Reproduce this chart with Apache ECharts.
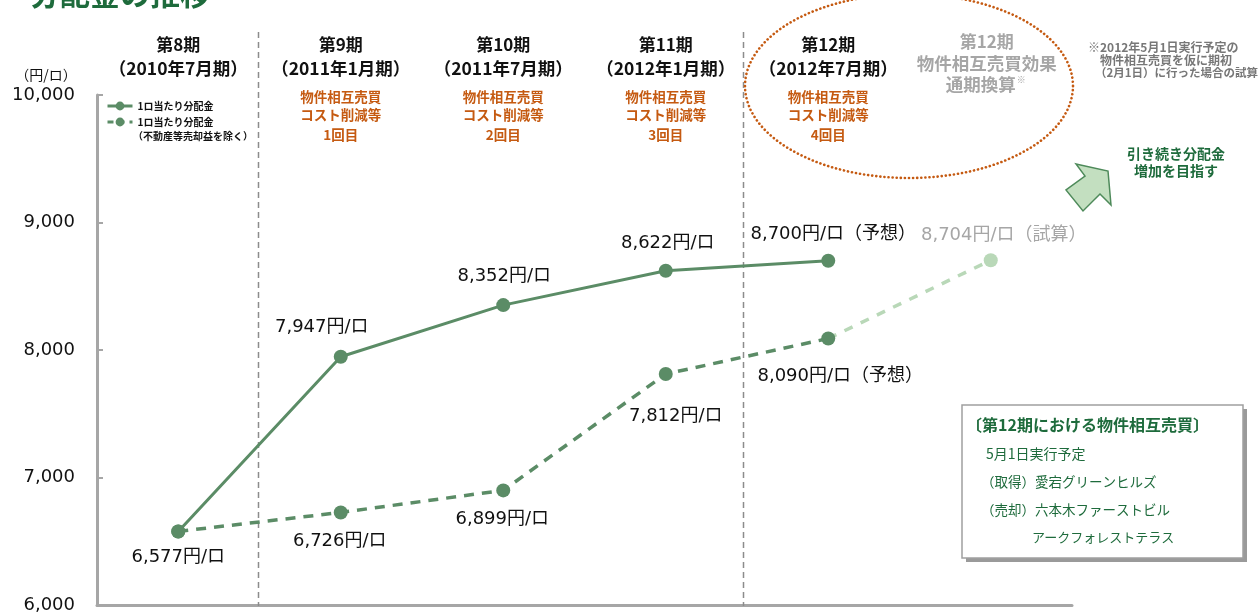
<!DOCTYPE html>
<html><head><meta charset="utf-8">
<script src="https://cdn.jsdelivr.net/npm/echarts@6/dist/echarts.min.js"></script>
<style>html,body{margin:0;padding:0;background:#fff}#c{width:1259px;height:614px}</style>
</head><body><div id="c"></div>
<script>
// ---- data ----
const periods = ['第8期', '第9期', '第10期', '第11期', '第12期', '第12期'];
const periodDates = ['（2010年7月期）', '（2011年1月期）', '（2011年7月期）', '（2012年1月期）', '（2012年7月期）', ''];
const periodNotes = ['', '1回目', '2回目', '3回目', '4回目', ''];
const seriesNames = ['1ロ当たり分配金', '1ロ当たり分配金（不動産等売却益を除く）'];
const distribution = [6577, 7947, 8352, 8622, 8700, null];
const distributionExGain = [6577, 6726, 6899, 7812, 8090, null];
const estimateFullYear = [null, null, null, null, 8090, 8704];
const distributionSuffix = ['', '', '', '', '（予想）', ''];
const exGainSuffix = ['', '', '', '', '（予想）', ''];
const estimateSuffix = ['', '', '', '', '', '（試算）'];
const yTicks = [6000, 10000, 1000];

// ---- styles / layout (not data) ----
const FONT = '"DejaVu Sans", "Noto Sans CJK JP", sans-serif';
const JP = '"Noto Sans CJK JP", sans-serif';
const GREEN = '#5b8c66', LIGHT = '#b9d8b8', ORANGE = '#c55a11', DARK = '#1e6b3c';
const off1 = [[0, 26], [-19, -29], [1, -29], [2, -27], [5, -26], [0, 0]];
const off2 = [[0, 0], [-1, 29], [-1, 29], [10, 42], [12, 38], [0, 0]];
const off3 = [[0, 0], [0, 0], [0, 0], [0, 0], [0, 0], [13, -25]];

function fmt(v, suf) { return v.toLocaleString('en-US') + '円/ロ' + suf; }
function buildData(vals, sufs, offs, opts) {
  return vals.map((v, i) => {
    if (v == null) return null;
    const item = { value: v };
    const showLabel = opts.labelIdx.indexOf(i) >= 0;
    item.label = {
      show: showLabel, position: 'inside', offset: offs[i],
      formatter: fmt(v, sufs[i]), color: opts.labelColor || '#111',
      fontSize: 18, fontFamily: FONT
    };
    if (opts.noSymbolIdx && opts.noSymbolIdx.indexOf(i) >= 0) { item.symbol = 'none'; }
    return item;
  });
}

const chart = echarts.init(document.getElementById('c'), null, { renderer: 'canvas' });
const option = {
  animation: false,
  grid: { left: 97, right: 187, top: 95, bottom: 7, containLabel: false },
  xAxis: {
    type: 'category', data: periods.map((p, i) => p + i), boundaryGap: true,
    axisLine: { lineStyle: { color: '#a6a6a6', width: 3 } },
    axisTick: { show: false }, axisLabel: { show: false }, splitLine: { show: false }
  },
  yAxis: {
    type: 'value', min: yTicks[0], max: yTicks[1], interval: yTicks[2],
    name: '（円/ロ）', nameLocation: 'end', nameGap: 13,
    nameTextStyle: { fontSize: 14, color: '#111', fontFamily: JP, align: 'center', padding: [0, 0, 0, -102] },
    axisLine: { show: true, lineStyle: { color: '#a6a6a6', width: 3 } },
    axisTick: { show: true, inside: true, length: 6, lineStyle: { color: '#a6a6a6', width: 2 } },
    axisLabel: { fontSize: 18, color: '#111', fontFamily: FONT, margin: 22,
      formatter: v => v.toLocaleString('en-US') },
    splitLine: { show: false }
  },
  legend: {
    data: [
      { name: seriesNames[0], lineStyle: { width: 3 } },
      { name: seriesNames[1], lineStyle: { type: [6, 5], width: 3 } }
    ],
    orient: 'vertical', left: 101, top: 96, itemGap: 6,
    itemWidth: 25, itemHeight: 11,
    textStyle: { fontSize: 10, fontWeight: 'bold', color: '#111', fontFamily: JP },
    formatter: n => '1ロ当たり分配金'
  },
  series: [
    {
      name: seriesNames[0], type: 'line', z: 4,
      data: buildData(distribution, distributionSuffix, off1, { labelIdx: [0, 1, 2, 3, 4] }),
      symbol: 'circle', symbolSize: 14, connectNulls: false,
      lineStyle: { color: GREEN, width: 3 }, itemStyle: { color: GREEN }
    },
    {
      name: seriesNames[1], type: 'line', z: 3,
      data: buildData(distributionExGain, exGainSuffix, off2, { labelIdx: [1, 2, 3, 4] }),
      symbol: 'circle', symbolSize: 14,
      lineStyle: { color: GREEN, width: 3.5, type: [10, 8] }, itemStyle: { color: GREEN }
    },
    {
      name: 'estimate', type: 'line', z: 2,
      data: buildData(estimateFullYear, estimateSuffix, off3, { labelIdx: [5], labelColor: '#a6a6a6', noSymbolIdx: [4] }),
      symbol: 'circle', symbolSize: 14,
      lineStyle: { color: LIGHT, width: 3.5, type: [9, 9] }, itemStyle: { color: LIGHT }
    }
  ]
};
chart.setOption(option);

// ---- annotations positioned through the axes ----
const px = i => chart.convertToPixel({ xAxisIndex: 0 }, i);
const g = [];
// vertical dashed dividers
[[0.5, -2], [3.5, -4]].forEach(([b, adj]) => {
  const x = Math.round((px(Math.floor(b)) + px(Math.ceil(b))) / 2) + adj + 0.5;
  g.push({ type: 'line', shape: { x1: x, y1: 32, x2: x, y2: 606 }, z: 1,
    style: { stroke: '#8c8c8c', lineWidth: 1.5, lineDash: [6, 4] } });
});
// period header texts
periods.forEach((p, i) => {
  const x = px(i);
  if (i < 5) {
    g.push({ type: 'text', x: x, y: 45, style: { text: p, font: 'bold 17px ' + JP, fill: '#111', align: 'center', verticalAlign: 'middle' } });
    g.push({ type: 'text', x: x, y: 68, style: { text: periodDates[i], font: 'bold 17.5px ' + JP, fill: '#111', align: 'center', verticalAlign: 'middle' } });
    if (i > 0) {
      g.push({ type: 'text', x: x, y: 97, style: { text: '物件相互売買', font: 'bold 13.5px ' + JP, fill: ORANGE, align: 'center', verticalAlign: 'middle' } });
      g.push({ type: 'text', x: x, y: 115, style: { text: 'コスト削減等', font: 'bold 13.5px ' + JP, fill: ORANGE, align: 'center', verticalAlign: 'middle' } });
      g.push({ type: 'text', x: x, y: 135, style: { text: periodNotes[i], font: 'bold 13.5px ' + JP, fill: ORANGE, align: 'center', verticalAlign: 'middle' } });
    }
  } else {
    g.push({ type: 'text', x: x - 4, y: 42, style: { text: p, font: 'bold 17px ' + JP, fill: '#a6a6a6', align: 'center', verticalAlign: 'middle' } });
    g.push({ type: 'text', x: x - 4, y: 63, style: { text: '物件相互売買効果', font: 'bold 17.5px ' + JP, fill: '#a6a6a6', align: 'center', verticalAlign: 'middle' } });
    g.push({ type: 'text', x: x - 10, y: 84, style: { text: '通期換算', font: 'bold 17.5px ' + JP, fill: '#a6a6a6', align: 'center', verticalAlign: 'middle' } });
    g.push({ type: 'text', x: x + 26, y: 80, style: { text: '※', font: 'bold 9px ' + JP, fill: '#a6a6a6', align: 'left', verticalAlign: 'middle' } });
  }
});
// dotted ellipse
(function () {
  const cx = 909, cy = 86, rx = 164, ry = 92, pts = [];
  for (let k = 0; k <= 240; k++) { const t = k / 240 * Math.PI * 2; pts.push([cx + rx * Math.cos(t), cy + ry * Math.sin(t)]); }
  g.push({ type: 'polyline', shape: { points: pts }, z: 5, style: { stroke: ORANGE, lineWidth: 2.6, lineDash: [0.1, 4], lineCap: 'round', fill: null } });
})();
// title (cut off at top)
g.push({ type: 'text', left: 30, top: -21, style: { text: '分配金の推移', font: 'bold 30px ' + JP, fill: DARK } });
// legend extra line
g.push({ type: 'text', x: 133, y: 136, style: { text: '（不動産等売却益を除く）', font: 'bold 10px ' + JP, fill: '#111', verticalAlign: 'middle' } });
// footnote
g.push({ type: 'text', x: 1088, y: 47, style: { text: '※2012年5月1日実行予定の', font: 'bold 12px ' + JP, fill: '#777', verticalAlign: 'middle' } });
g.push({ type: 'text', x: 1100, y: 60, style: { text: '物件相互売買を仮に期初', font: 'bold 12px ' + JP, fill: '#777', verticalAlign: 'middle' } });
g.push({ type: 'text', x: 1095, y: 73, style: { text: '（2月1日）に行った場合の試算', font: 'bold 11.5px ' + JP, fill: '#777', verticalAlign: 'middle' } });
// arrow
g.push({ type: 'polygon', shape: { points: [[1076, 164], [1108, 171], [1111, 205], [1100, 194], [1083, 211], [1066, 190], [1085, 176]] },
  style: { fill: '#c3dfc0', stroke: '#4e8a5a', lineWidth: 1.5 } });
g.push({ type: 'text', x: 1176, y: 154, style: { text: '引き続き分配金', font: 'bold 14px ' + JP, fill: DARK, align: 'center', verticalAlign: 'middle' } });
g.push({ type: 'text', x: 1176, y: 171, style: { text: '増加を目指す', font: 'bold 14px ' + JP, fill: DARK, align: 'center', verticalAlign: 'middle' } });
// info box
g.push({ type: 'rect', shape: { x: 966, y: 409, width: 281, height: 153 }, style: { fill: '#9a9a9a' }, z: 5 });
g.push({ type: 'rect', shape: { x: 962, y: 405, width: 281, height: 153 }, style: { fill: '#fff', stroke: '#a0a0a0', lineWidth: 1.5 }, z: 6 });
const boxLines = [
  ['〔第12期における物件相互売買〕', 966, 425, 'bold 16px '],
  ['5月1日実行予定', 986, 454, '14px '],
  ['（取得）愛宕グリーンヒルズ', 981, 482, '13.5px '],
  ['（売却）六本木ファーストビル', 981, 510, '13.5px '],
  ['アークフォレストテラス', 1032, 537, '13px ']
];
boxLines.forEach(b => g.push({ type: 'text', x: b[1], y: b[2], z: 7, style: { text: b[0], font: b[3] + JP, fill: DARK, verticalAlign: 'middle' } }));
chart.setOption({ graphic: g });
</script></body></html>
